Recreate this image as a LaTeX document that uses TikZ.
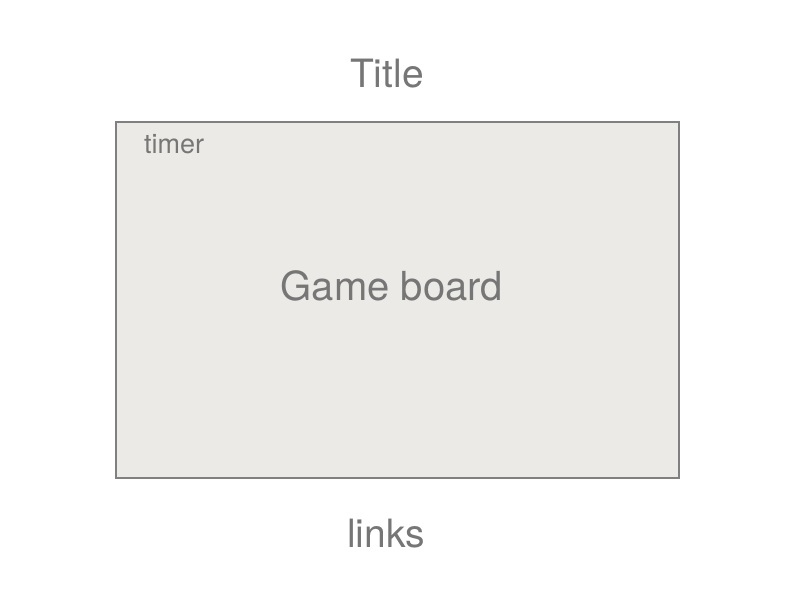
\documentclass[tikz,border=0pt]{standalone}
\usepackage{fontspec}
\setmainfont{TeX Gyre Heros}
\definecolor{txt}{HTML}{767676}
\definecolor{boardfill}{HTML}{ECEAE6}
\definecolor{boardline}{HTML}{808080}
\tikzset{
  lbl/.style={text=txt, inner sep=0pt, anchor=base},
  big/.style={lbl, font=\fontsize{39}{44}\selectfont},
  board/.style={lbl, font=\fontsize{40}{44}\selectfont},
  small/.style={lbl, font=\fontsize{27}{30}\selectfont},
}
\begin{document}
\begin{tikzpicture}[x=1pt,y=-1pt]
\useasboundingbox (0,0) rectangle (800,600);
\draw[fill=boardfill, draw=boardline, line width=1.5pt] (116,122) rectangle (679,478);
\node[big] (title) at (387,87) {Title};
\node[board] (gameboard) at (392,300) {Game board};
\node[big] (links) at (386,547) {links};
\node[small, anchor=base west] (timer) at (144,153) {timer};
\end{tikzpicture}
\end{document}
